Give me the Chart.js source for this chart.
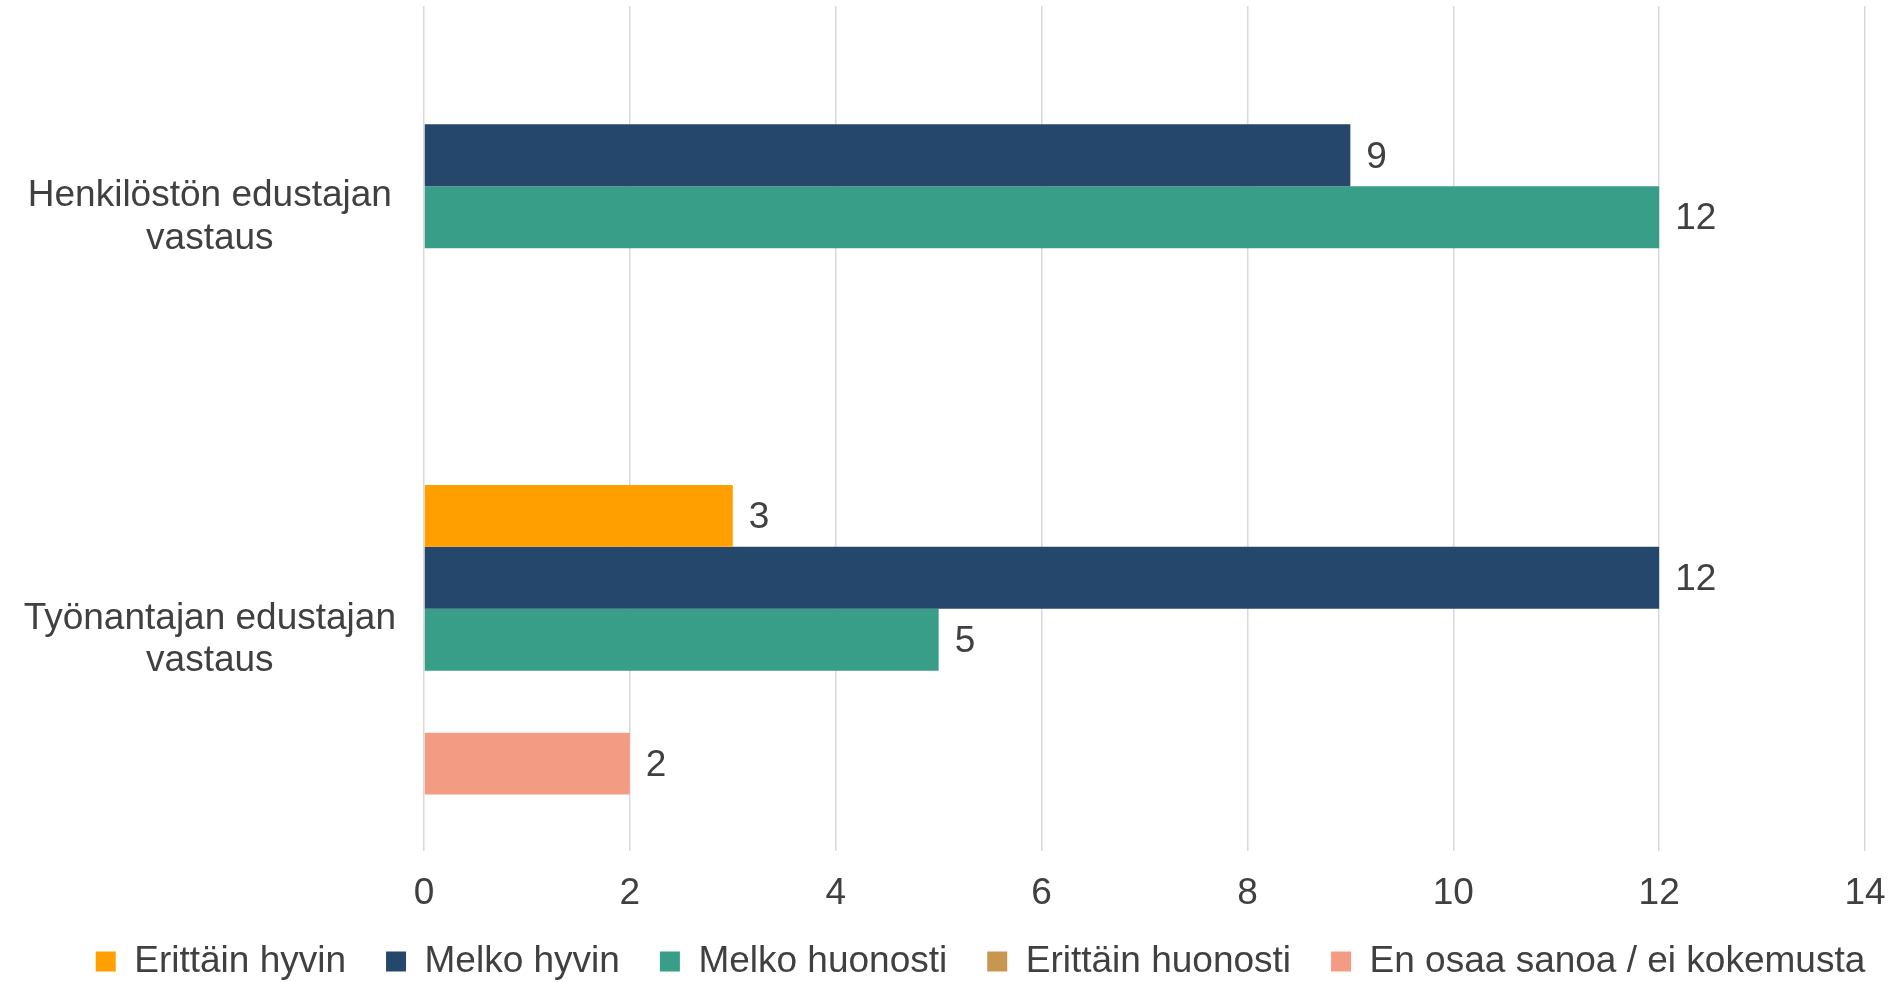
<!DOCTYPE html>
<html>
<head>
<meta charset="utf-8">
<script src="https://cdn.jsdelivr.net/npm/chart.js@4.4.0/dist/chart.umd.min.js"></script>
<style>
  html, body { margin: 0; padding: 0; background: #fff; }
  #wrap { width: 1901px; height: 982px; }
</style>
</head>
<body>
<div id="wrap"><canvas id="chart"></canvas></div>
<script>
const categories = [['Henkilöstön edustajan', 'vastaus'], ['Työnantajan edustajan', 'vastaus']]
const seriesNames = ['Erittäin hyvin', 'Melko hyvin', 'Melko huonosti', 'Erittäin huonosti', 'En osaa sanoa / ei kokemusta']
const erittainHyvin = [0, 3]
const melkoHyvin = [9, 12]
const melkoHuonosti = [12, 5]
const erittainHuonosti = [0, 0]
const enOsaa = [0, 2]
const colors = ['#FF9F00', '#25476B', '#389E87', '#C8964E', '#F49C83']
const xTicks = [0, 2, 4, 6, 8, 10, 12, 14]

const textColor = '#404040'
const font = { family: '"Liberation Sans", Arial, sans-serif', size: 37, lineHeight: 1.15 }

// value labels at the end of each bar, only where value > 0
const barLabels = {
  id: 'barLabels',
  afterDatasetsDraw(chart) {
    const { ctx } = chart
    ctx.save()
    ctx.font = `${font.size}px ${font.family}`
    ctx.fillStyle = textColor
    ctx.textBaseline = 'middle'
    ctx.textAlign = 'left'
    chart.data.datasets.forEach((ds, i) => {
      const meta = chart.getDatasetMeta(i)
      meta.data.forEach((bar, j) => {
        const v = ds.data[j]
        if (!v) return
        ctx.fillText(String(v), bar.x + 16, bar.y + 2)
      })
    })
    ctx.restore()
  }
}

// legend sits a bit right of centre, x labels may hang below their box
const nudge = {
  id: 'nudge',
  afterLayout(chart) {
    chart.legend.left += 48
    chart.legend.right += 48
    chart.scales.x.bottom += 16
  }
}

const values = [erittainHyvin, melkoHyvin, melkoHuonosti, erittainHuonosti, enOsaa]

new Chart(document.getElementById('chart'), {
  type: 'bar',
  data: {
    labels: categories,
    datasets: seriesNames.map((label, i) => ({
      label,
      data: values[i],
      backgroundColor: colors[i],
      categoryPercentage: 0.733,
      barPercentage: 1,
    })),
  },
  options: {
    indexAxis: 'y',
    responsive: true,
    maintainAspectRatio: false,
    animation: false,
    layout: { padding: { top: 6, right: 36, left: 0, bottom: -8 } },
    scales: {
      x: {
        min: 0,
        max: 14,
        afterBuildTicks: (scale) => { scale.ticks = xTicks.map(value => ({ value })) },
        afterFit: (scale) => {
          scale.height = 52
          scale.paddingRight = 36
        },
        grid: { color: '#d9d9d9', lineWidth: 1.5, drawTicks: false },
        border: { display: false },
        ticks: { color: textColor, font, padding: 22 },
      },
      y: {
        grid: { display: false },
        border: { display: false },
        afterFit: (scale) => {
          scale.width = 424
          scale.paddingTop = 0
          scale.paddingBottom = 0
        },
        ticks: { color: textColor, font, padding: 20, crossAlign: 'center' },
      },
    },
    plugins: {
      tooltip: { enabled: false },
      legend: {
        position: 'bottom',
        labels: { color: textColor, font, boxWidth: 20, boxHeight: 20, padding: 40 },
      },
    },
  },
  plugins: [barLabels, nudge],
})
</script>
</body>
</html>
